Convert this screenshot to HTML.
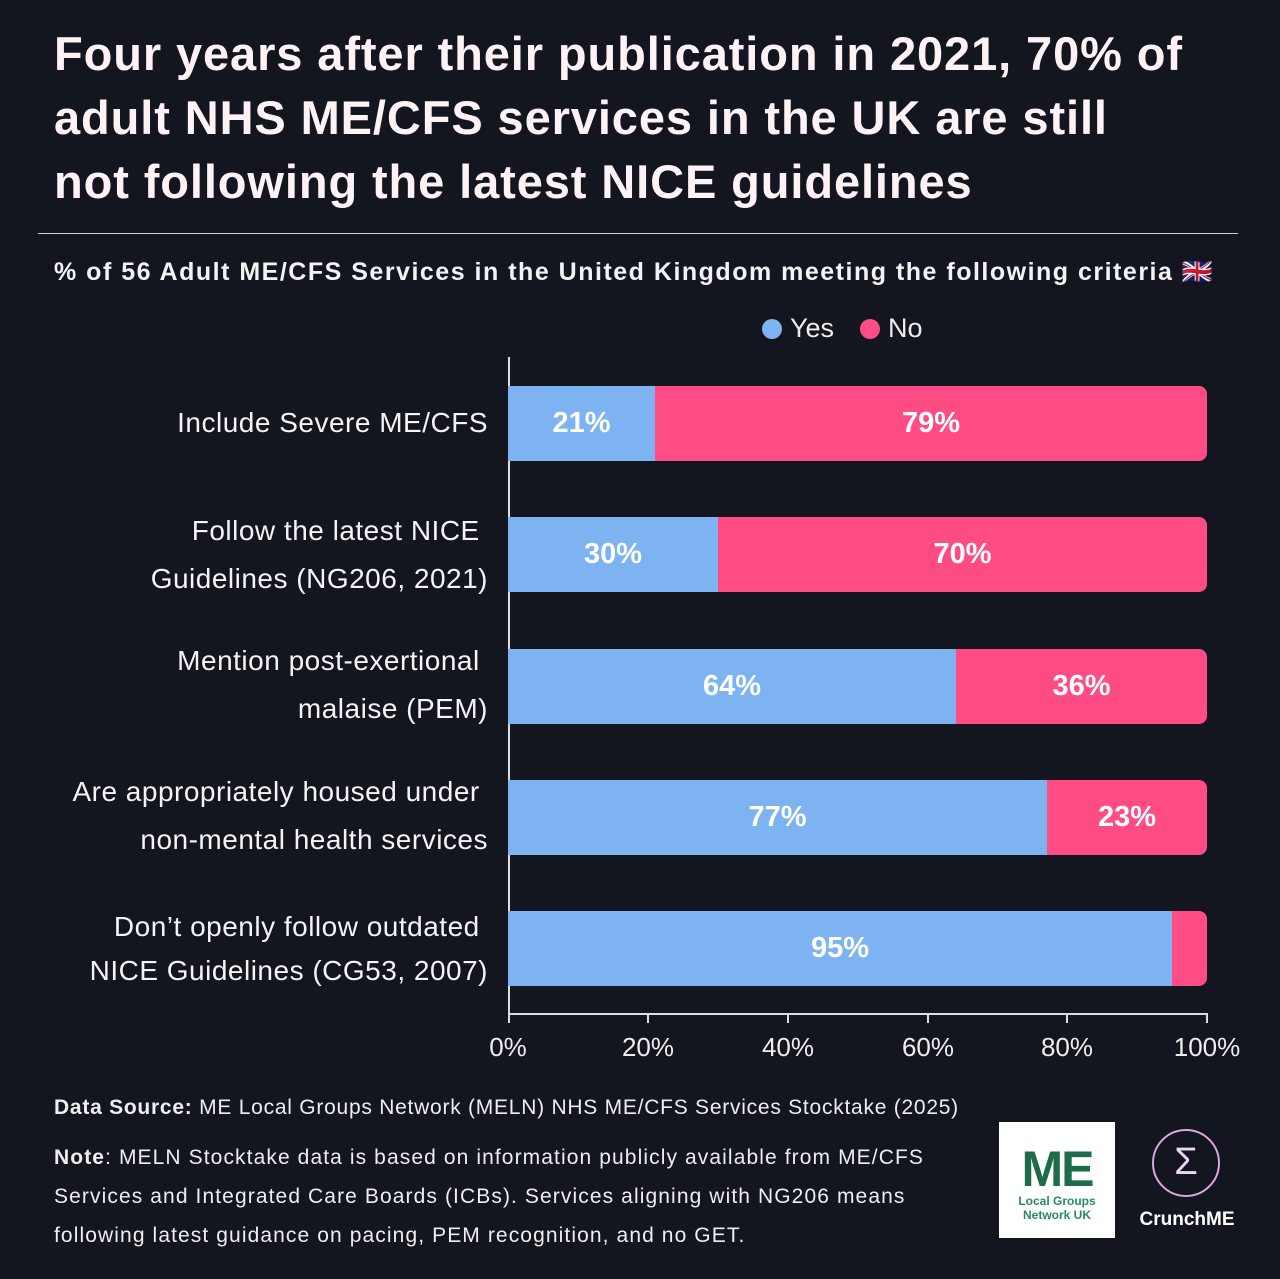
<!DOCTYPE html>
<html><head><meta charset="utf-8"><style>
body{margin:0;width:1280px;height:1279px;background:#13151f;font-family:"Liberation Sans","DejaVu Sans",sans-serif;color:#fff;position:relative;overflow:hidden}
.a{position:absolute}
.t{left:54px;top:22px;font-size:47px;font-weight:bold;line-height:64px;color:#fdf3f6;letter-spacing:0.9px}
.lab{right:792px;text-align:right;font-size:28px;line-height:48px;color:#f4f4f4;letter-spacing:0.5px}
.bar{left:508px;height:75px;border-radius:0 8px 8px 0;overflow:hidden;display:flex;width:699px}
.y{background:#7db3f0;display:flex;align-items:center;justify-content:center;font-size:29px;font-weight:bold;color:#fff}
.n{background:#ff4c84;flex:1;display:flex;align-items:center;justify-content:center;font-size:29px;font-weight:bold;color:#fff}
.tk{top:1014px;width:2px;height:9px;background:#ddd}
.tl{top:1032px;font-size:26px;color:#eee;width:100px;text-align:center}
</style></head><body>
<div class="a t">Four years after their publication in 2021, 70% of<br>adult NHS ME/CFS services in the UK are still<br>not following the latest NICE guidelines</div>
<div class="a" style="left:38px;top:233px;width:1200px;height:1px;background:#ccc"></div>
<div class="a" style="left:54px;top:258px;font-size:25px;font-weight:bold;color:#f3f3f3;letter-spacing:1.5px">% of 56 Adult ME/CFS Services in the United Kingdom meeting the following criteria 🇬🇧</div>
<div class="a" style="left:762px;top:313px;font-size:27px;color:#eee;display:flex;align-items:center"><span style="width:20px;height:20px;border-radius:50%;background:#7db3f0;display:inline-block;margin-right:8px"></span>Yes<span style="width:20px;height:20px;border-radius:50%;background:#ff4c84;display:inline-block;margin:0 8px 0 26px"></span>No</div>
<div class="a" style="left:508px;top:357px;width:2px;height:658px;background:#ddd"></div>
<div class="a" style="left:508px;top:1013px;width:700px;height:2px;background:#ddd"></div>

<div class="a lab" style="top:399px">Include Severe ME/CFS</div>
<div class="a lab" style="top:507px">Follow the latest NICE&nbsp;<br>Guidelines (NG206, 2021)</div>
<div class="a lab" style="top:637px">Mention post-exertional&nbsp;<br>malaise (PEM)</div>
<div class="a lab" style="top:768px">Are appropriately housed under&nbsp;<br>non-mental health services</div>
<div class="a lab" style="top:905px;line-height:44px">Don’t openly follow outdated&nbsp;<br>NICE Guidelines (CG53, 2007)</div>

<div class="a bar" style="top:386px"><div class="y" style="width:147px">21%</div><div class="n">79%</div></div>
<div class="a bar" style="top:517px"><div class="y" style="width:210px">30%</div><div class="n">70%</div></div>
<div class="a bar" style="top:649px"><div class="y" style="width:448px">64%</div><div class="n">36%</div></div>
<div class="a bar" style="top:780px"><div class="y" style="width:539px">77%</div><div class="n">23%</div></div>
<div class="a bar" style="top:911px"><div class="y" style="width:664px">95%</div><div class="n"></div></div>

<div class="a tk" style="left:508px"></div><div class="a tk" style="left:647px"></div><div class="a tk" style="left:787px"></div><div class="a tk" style="left:927px"></div><div class="a tk" style="left:1066px"></div><div class="a tk" style="left:1206px"></div>
<div class="a tl" style="left:458px">0%</div><div class="a tl" style="left:598px">20%</div><div class="a tl" style="left:738px">40%</div><div class="a tl" style="left:878px">60%</div><div class="a tl" style="left:1017px">80%</div><div class="a tl" style="left:1157px">100%</div>

<div class="a" style="left:54px;top:1096px;font-size:21px;color:#eee;letter-spacing:0.75px"><b>Data Source:</b> ME Local Groups Network (MELN) NHS ME/CFS Services Stocktake (2025)</div>
<div class="a" style="left:54px;top:1138px;font-size:21px;line-height:39px;color:#eee;width:940px;letter-spacing:1.1px"><b>Note</b>: MELN Stocktake data is based on information publicly available from ME/CFS<br>Services and Integrated Care Boards (ICBs). Services aligning with NG206 means<br>following latest guidance on pacing, PEM recognition, and no GET.</div>

<div class="a" style="left:999px;top:1122px;width:116px;height:116px;background:#fff;text-align:center;color:#1e6b4a">
<div style="font-size:50px;font-weight:bold;line-height:50px;margin-top:22px;letter-spacing:-2px">ME</div>
<div style="font-size:12px;font-weight:bold;line-height:14px;color:#2a8a5e">Local Groups<br>Network UK</div></div>
<div class="a" style="left:1152px;top:1129px;width:68px;height:68px;border-radius:50%;border:2px solid #d9a8e0;box-sizing:border-box;text-align:center;font-size:38px;line-height:62px;color:#e8d8f5">Σ</div>
<div class="a" style="left:1137px;top:1209px;width:100px;text-align:center;font-size:19px;font-weight:bold;color:#fff">CrunchME</div>
</body></html>
